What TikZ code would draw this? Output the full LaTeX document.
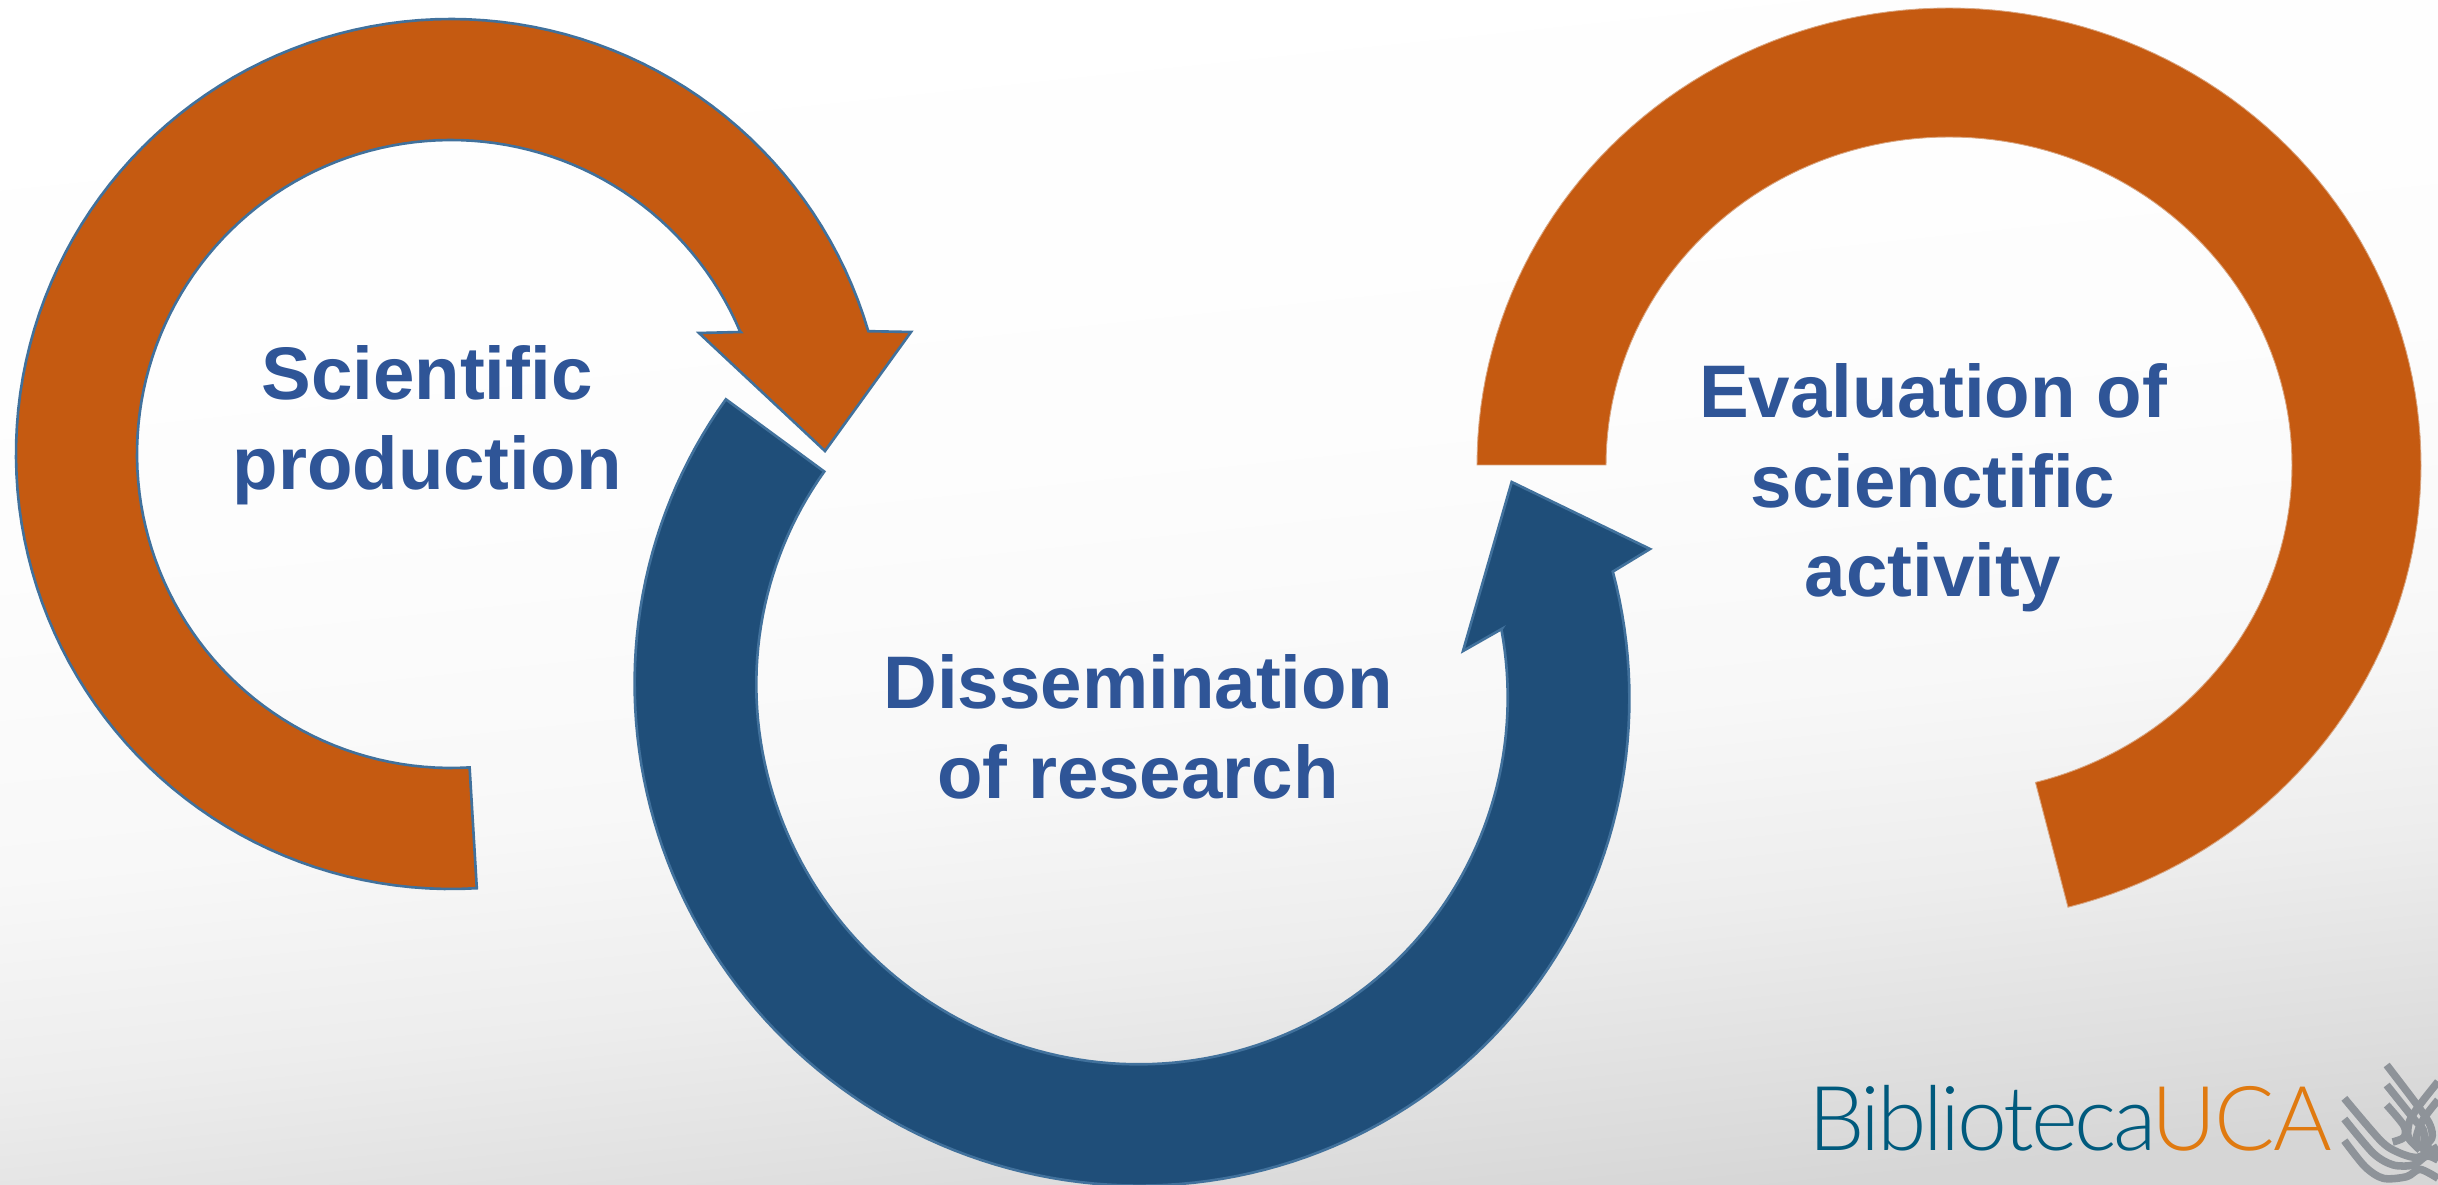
\documentclass[tikz,border=0pt]{standalone}
\usepackage{fontspec}
\setmainfont{Liberation Sans}
\newfontfamily\logofont[UprightFont=* Light,LetterSpace=-3.5]{Lato}
\newfontfamily\logofontb[UprightFont=* Light,LetterSpace=-2]{Lato}
\definecolor{orangefill}{HTML}{C55A11}
\definecolor{bluefill}{HTML}{1F4E79}
\definecolor{edgeblue}{HTML}{41719C}
\definecolor{edgetan}{HTML}{D9A47F}
\definecolor{labelblue}{HTML}{2F5597}
\definecolor{logoblue}{HTML}{005A7D}
\definecolor{logoorange}{HTML}{E07A10}
\definecolor{markgrey}{HTML}{8E9399}
\definecolor{bgA}{HTML}{D6D6D6}
\definecolor{bgB}{HTML}{EDEDED}
\definecolor{bgC}{HTML}{F8F8F8}
\definecolor{bgD}{HTML}{FDFDFD}
\pgfdeclareverticalshading{slidebg}{100bp}{
  color(0bp)=(bgA);
  color(25bp)=(bgA);
  color(36bp)=(bgB);
  color(44bp)=(bgC);
  color(56bp)=(bgD);
  color(75bp)=(white);
  color(100bp)=(white)}
\tikzset{
  x=0.02cm,y=-0.02cm,
  bandorange/.style={fill=orangefill,draw=edgeblue,line width=1.5pt,line join=miter},
  bandorangeplain/.style={fill=orangefill,draw=edgetan,line width=0.5pt,line join=miter},
  bandblue/.style={fill=bluefill,draw=edgeblue,line width=1.5pt,line join=miter},
  caption/.style={font=\bfseries\fontsize{42.4}{51}\selectfont,text=labelblue,align=center,inner sep=0pt},
  logopart/.style={font=\logofont\fontsize{51}{51}\selectfont,inner sep=0pt,anchor=base west},
  logopartb/.style={font=\logofontb\fontsize{51}{51}\selectfont,inner sep=0pt,anchor=base west},
  markline/.style={draw=markgrey,line width=4.3pt,line cap=butt,line join=round}
}
\begin{document}
\begin{tikzpicture}
\useasboundingbox (0,0) rectangle (2438,1185);
\clip (0,0) rectangle (2438,1185);
\shade[shading=slidebg,shading angle=6] (0,0) rectangle (2438,1185);
% left orange
\draw[bandorange] plot[domain=86.6:343.6,samples=120] ({451+435*cos(\x)},{454+435*sin(\x)})
  -- (911,332) -- (825,451) -- (699,333) -- (740.7,332)
  -- plot[domain=337:86.6,samples=120] ({451+314*cos(\x)},{454+314*sin(\x)}) -- cycle;
% blue: slightly tilted ellipses
\draw[bandblue] plot[domain=180.7:-49.4,samples=140] ({1132+500*cos(\x)*0.8192-492*sin(\x)*0.5736},{691+500*cos(\x)*0.5736+492*sin(\x)*0.8192})
  -- (1650,549) -- (1511.7,482) -- (1463,651) -- (1501.7,629)
  -- plot[domain=-45:180.5,samples=140] ({1132+378*cos(\x)*0.8192-371*sin(\x)*0.5736},{691+378*cos(\x)*0.5736+371*sin(\x)*0.8192})
  -- cycle;
% right orange
\draw[bandorangeplain] plot[domain=180:435.4,samples=140] ({1949+472*cos(\x)},{465+457*sin(\x)})
  -- plot[domain=435.4:180,samples=140] ({1949+343*cos(\x)},{465+328*sin(\x)}) -- cycle;
\node[caption] (sci) at (427,425) {Scientific\\production};
\node[caption] (dis) at (1138,727) {Dissemination\\of research};
\node[caption] (eva) at (1933,488) {Evaluation of\\scienctific\\activity};
\node[logopart,text=logoblue] (bib) at (1808,1150) {Biblioteca};
\node[logopartb,text=logoorange] (uca) at (2151,1150) {UCA};
% logo mark
\begin{scope}[shift={(2330,1050)},x=0.006667cm,y=-0.006667cm]
\draw[markline] plot[smooth,tension=0.5] coordinates {(43,145) (150,270) (200,305) (262,322) (324,290)};
\draw[markline] plot[smooth,tension=0.5] coordinates {(43,207) (130,310) (190,345) (250,345) (290,318) (324,330)};
\draw[markline] plot[smooth,tension=0.5] coordinates {(43,272) (105,350) (160,385) (230,380) (270,358) (324,385)};
\draw[markline] plot[smooth,tension=0.5] coordinates {(170,45) (265,170) (300,225) (305,265) (270,300)};
\draw[markline] plot[smooth,tension=0.5] coordinates {(170,105) (250,205) (280,240) (285,280) (324,320)};
\draw[markline] plot[smooth,tension=0.5] coordinates {(170,165) (222,228) (222,262) (188,276)};
\draw[markline] plot[smooth,tension=0.5] coordinates {(324,95) (265,170) (238,215) (235,262) (270,300)};
\draw[markline] plot[smooth,tension=0.5] coordinates {(324,150) (285,200) (265,240) (262,280) (324,330)};
\end{scope}
\end{tikzpicture}
\end{document}
